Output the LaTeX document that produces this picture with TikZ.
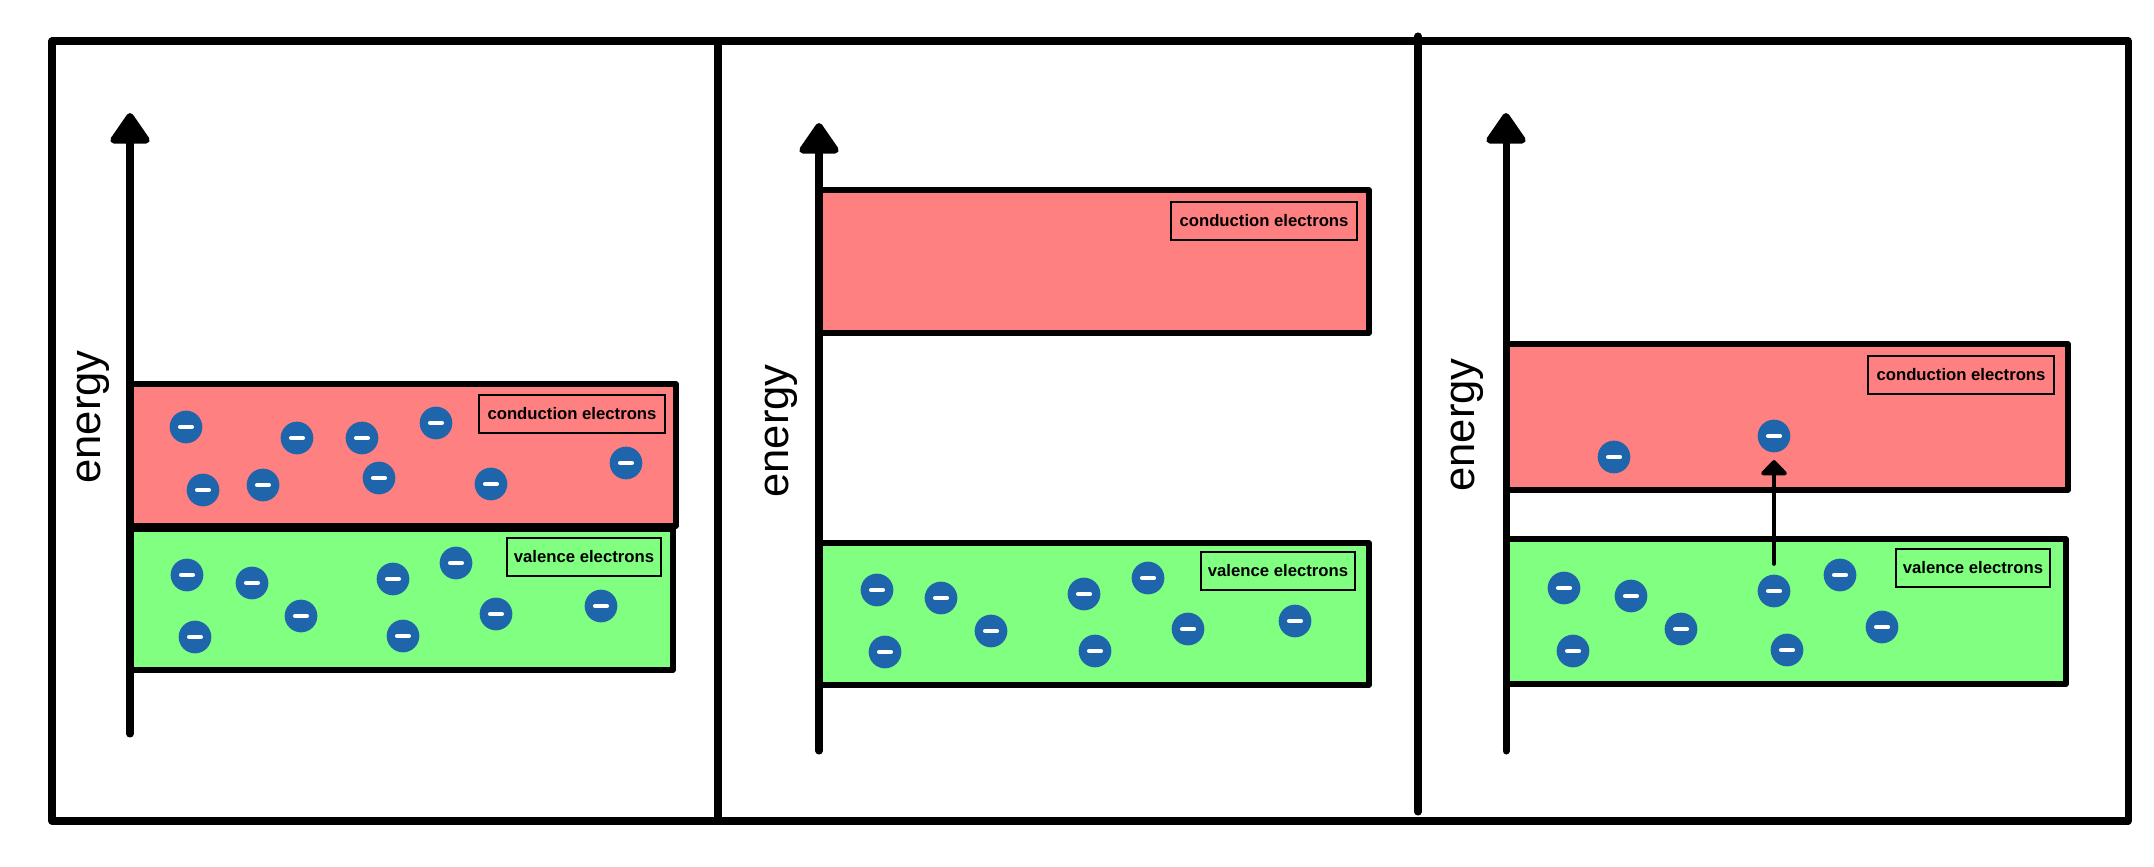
\documentclass[tikz,border=0pt]{standalone}
\usepackage{fontspec}
\setmainfont{Liberation Sans}
\usetikzlibrary{arrows.meta}
\definecolor{bandred}{RGB}{255,128,128}
\definecolor{bandgreen}{RGB}{128,255,128}
\definecolor{eblue}{RGB}{31,101,172}
\tikzset{
  frameline/.style={line width=2pt, line cap=round, line join=round},
  band/.style={line width=1.6pt, line join=round},
  cband/.style={band, draw=black, fill=bandred},
  vband/.style={band, draw=black, fill=bandgreen},
  axisarrow/.style={line width=2pt, line cap=round, -{Triangle[length=9.5pt,width=12.5pt,round]}},
  jumparrow/.style={line width=1.4pt, line cap=round, -{Triangle[length=4.6pt,width=8.6pt,round]}},
  bandlabel/.style={draw=black, line width=0.6pt, inner sep=0pt, font=\fontsize{4.75}{5}\selectfont\bfseries, minimum height=10.6pt},
  clabel/.style={bandlabel, minimum width=53pt},
  vlabel/.style={bandlabel, minimum width=44pt},
  energylabel/.style={rotate=90, inner sep=0pt, font=\fontsize{12.4}{13}\selectfont},
  electron/.style={circle, fill=eblue, minimum size=9.3pt, inner sep=0pt,
    path picture={\draw[white, line width=1.4pt, line cap=round]
      ([xshift=-1.6pt]path picture bounding box.center) -- ([xshift=1.6pt]path picture bounding box.center);}}
}
\begin{document}
\begin{tikzpicture}[x=0.01cm, y=-0.01cm]
\useasboundingbox (0,0) rectangle (2154,867);
% frame
\draw[frameline] (52,41) rectangle (2128,821);
\draw[frameline] (718,41) -- (718,821);
\draw[frameline] (1418,36) -- (1418,812);

% ---------- panel 1 ----------
\draw[cband] (130,384) rectangle (676,526);
\draw[vband] (130,529) rectangle (673,670);
\coordinate (a1b) at (130,734);
\coordinate (a1t) at (130,113);
\draw[axisarrow] (a1b) -- (a1t);
\node[energylabel] (en1) at (93,417) {energy};
\node[clabel] (cl1) at (572,414) {conduction electrons};
\node[vlabel] (vl1) at (584,557) {valence electrons};
\foreach \n/\x/\y in {1/186/427, 2/297/438, 3/362/438, 4/436/423, 5/203/490, 6/263/485, 7/379/478, 8/491/484, 9/626/463}
  \node[electron] (c1e\n) at (\x,\y) {};
\foreach \n/\x/\y in {1/187/575, 2/252/583, 3/393/579, 4/456/563, 5/195/637, 6/301/616, 7/403/636, 8/496/614, 9/601/606}
  \node[electron] (v1e\n) at (\x,\y) {};

% ---------- panel 2 ----------
\draw[cband] (819,190) rectangle (1369,333);
\draw[vband] (819,543) rectangle (1369,685);
\coordinate (a2b) at (819,751);
\coordinate (a2t) at (819,123);
\draw[axisarrow] (a2b) -- (a2t);
\node[energylabel] (en2) at (781,431) {energy};
\node[clabel] (cl2) at (1264,221) {conduction electrons};
\node[vlabel] (vl2) at (1278,571) {valence electrons};
\foreach \n/\x/\y in {1/877/590, 2/941/598, 3/1084/594, 4/1148/578, 5/885/652, 6/991/631, 7/1095/651, 8/1188/629, 9/1295/621}
  \node[electron] (v2e\n) at (\x,\y) {};

% ---------- panel 3 ----------
\draw[cband] (1506,344) rectangle (2068,490);
\draw[vband] (1506,539) rectangle (2066,684);
\coordinate (a3b) at (1506,751);
\coordinate (a3t) at (1506,113);
\draw[axisarrow] (a3b) -- (a3t);
\node[energylabel] (en3) at (1467,425) {energy};
\node[clabel] (cl3) at (1961,375) {conduction electrons};
\node[vlabel] (vl3) at (1973,568) {valence electrons};
\node[electron] (c3e1) at (1614,457) {};
\node[electron] (c3e2) at (1774,436) {};
\foreach \n/\x/\y in {1/1564/588, 2/1631/596, 3/1774/591, 4/1840/575, 5/1573/651, 6/1681/629, 7/1787/650, 8/1882/627}
  \node[electron] (v3e\n) at (\x,\y) {};
\draw[jumparrow, shorten <=3pt, shorten >=2pt] (v3e3.north) -- (c3e2.south);
\end{tikzpicture}
\end{document}
